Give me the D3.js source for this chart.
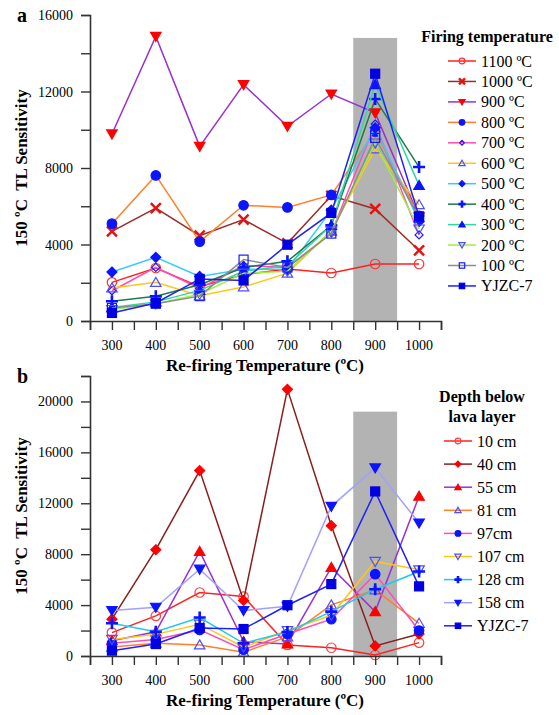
<!DOCTYPE html>
<html>
<head>
<meta charset="utf-8">
<script src="https://cdn.jsdelivr.net/npm/d3@7"></script>
<style>
  body { margin: 0; background: #fff; }
  text { font-family: "Liberation Serif", "Times New Roman", serif; }
</style>
</head>
<body>
<div id="chart"></div>
<script>
// re-firing temperatures (x axis)
const temps = [300, 400, 500, 600, 700, 800, 900, 1000];

// panel a - firing temperature series
const a1100 = [2020, 2770, 1800, 2420, 2720, 2510, 2980, 2980];
const a1000 = [4690, 5900, 4460, 5300, 4060, 6550, 5860, 3690];
const a900 = [9780, 14880, 9130, 12360, 10180, 11870, 10880, 5450];
const a800 = [5090, 7610, 4150, 6050, 5940, 6590, 9900, 5500];
const a700 = [1580, 2800, 1700, 2900, 2800, 4600, 10300, 4500];
const a600 = [1730, 2020, 1320, 1780, 2500, 4700, 9000, 6080];
const a500 = [2560, 3330, 2330, 2700, 2700, 5800, 10100, 5200];
const a400 = [1030, 1290, 1900, 2800, 3120, 5000, 11610, 8050];
const a300 = [700, 1000, 1600, 2600, 2900, 5000, 12360, 7090];
const a200 = [600, 900, 1400, 2500, 2600, 4700, 9300, 4810];
const a100 = [680, 900, 1300, 3210, 2800, 4570, 9570, 5400];
const yjzc = [420, 940, 2200, 2120, 3990, 5650, 12930, 5470];

// panel b - depth below lava layer series
const b10 = [1840, 3150, 4990, 4670, 870, 650, 80, 1050];
const b40 = [2890, 8350, 14570, 4360, 20950, 10240, 790, 1730];
const b55 = [1200, 1900, 8210, 1130, 950, 6960, 3490, 12550];
const b81 = [700, 1000, 870, 300, 1500, 4020, 5200, 2570];
const b97 = [1000, 1300, 2050, 500, 1730, 2890, 6430, 2000];
const b107 = [1300, 1700, 2500, 700, 2000, 3200, 7430, 6770];
const b128 = [2570, 1900, 3020, 1000, 1890, 3490, 5250, 6640];
const b158 = [3570, 3830, 6820, 3570, 3900, 11760, 14780, 10450];

const seriesA = [
  { name: '1100 ºC', values: a1100, line: '#ff2020', mark: 'circle', fill: 'none', mcol: '#ff3030' },
  { name: '1000 ºC', values: a1000, line: '#9c2a2a', mark: 'x', fill: 'none', mcol: '#e81010' },
  { name: '900 ºC', values: a900, line: '#9b30d0', mark: 'tdown', fill: '#ff0000', mcol: '#ff0000' },
  { name: '800 ºC', values: a800, line: '#ff7f2a', mark: 'circle', fill: '#0a14ff', mcol: '#0a14ff' },
  { name: '700 ºC', values: a700, line: '#ff4db8', mark: 'diamond', fill: 'none', mcol: '#1a1aff' },
  { name: '600 ºC', values: a600, line: '#ffc61a', mark: 'tup', fill: 'none', mcol: '#4d4dff' },
  { name: '500 ºC', values: a500, line: '#33ccff', mark: 'diamond', fill: '#0a14ff', mcol: '#0a14ff' },
  { name: '400 ºC', values: a400, line: '#1e7a4a', mark: 'plus', fill: 'none', mcol: '#0a14ff' },
  { name: '300 ºC', values: a300, line: '#33d6a0', mark: 'tup', fill: '#0a14ff', mcol: '#0a14ff' },
  { name: '200 ºC', values: a200, line: '#9ef03a', mark: 'tdown', fill: 'none', mcol: '#4d4dff' },
  { name: '100 ºC', values: a100, line: '#8c8c8c', mark: 'square', fill: 'none', mcol: '#1a1aff' },
  { name: 'YJZC-7', values: yjzc, line: '#1f1fff', mark: 'square', fill: '#0000e0', mcol: '#0000e0' }
];

const seriesB = [
  { name: '10 cm', values: b10, line: '#ff2020', mark: 'circle', fill: 'none', mcol: '#ff4040' },
  { name: '40 cm', values: b40, line: '#8b1c1c', mark: 'diamond', fill: '#ff0000', mcol: '#ff0000' },
  { name: '55 cm', values: b55, line: '#9b30d0', mark: 'tup', fill: '#ff0000', mcol: '#ff0000' },
  { name: '81 cm', values: b81, line: '#ff7f2a', mark: 'tup', fill: 'none', mcol: '#4d4dff' },
  { name: '97cm', values: b97, line: '#ff4db8', mark: 'circle', fill: '#0a14ff', mcol: '#0a14ff' },
  { name: '107 cm', values: b107, line: '#ffc61a', mark: 'tdown', fill: 'none', mcol: '#4d4dff' },
  { name: '128 cm', values: b128, line: '#1ec8f0', mark: 'plus', fill: 'none', mcol: '#0a14ff' },
  { name: '158 cm', values: b158, line: '#a0a0ff', mark: 'tdown', fill: '#0a14ff', mcol: '#0a14ff' },
  { name: 'YJZC-7', values: yjzc, line: '#1f1fff', mark: 'square', fill: '#0000e0', mcol: '#0000e0' }
];

const svg = d3.select('#chart').append('svg')
  .attr('width', 559)
  .attr('height', 715);

// draw a marker of the given kind centred on 0,0 inside g
function marker(g, s, size) {
  const r = size / 2;
  const sw = 1.2;
  if (s.mark === 'circle') {
    g.append('circle').attr('r', r * 0.95)
      .attr('fill', s.fill).attr('stroke', s.mcol).attr('stroke-width', sw);
  } else if (s.mark === 'square') {
    g.append('rect').attr('x', -r * 0.9).attr('y', -r * 0.9)
      .attr('width', r * 1.8).attr('height', r * 1.8)
      .attr('fill', s.fill).attr('stroke', s.mcol).attr('stroke-width', sw);
  } else if (s.mark === 'tup' || s.mark === 'tdown') {
    const k = s.mark === 'tup' ? 1 : -1;
    const pts = [[0, -r * k], [r * 1.05, r * 0.8 * k], [-r * 1.05, r * 0.8 * k]];
    g.append('path').attr('d', d3.line()(pts) + 'Z')
      .attr('fill', s.fill).attr('stroke', s.mcol).attr('stroke-width', sw);
  } else if (s.mark === 'diamond') {
    const d = s.fill === 'none' ? r * 0.8 : r;
    const pts = [[0, -d], [d, 0], [0, d], [-d, 0]];
    g.append('path').attr('d', d3.line()(pts) + 'Z')
      .attr('fill', s.fill).attr('stroke', s.mcol).attr('stroke-width', sw);
  } else if (s.mark === 'plus') {
    g.append('path').attr('d', `M${-r * 1.2},0H${r * 1.2}M0,${-r * 1.2}V${r * 1.2}`)
      .attr('stroke', s.mcol).attr('stroke-width', 2.6).attr('fill', 'none');
  } else if (s.mark === 'x') {
    g.append('path').attr('d', `M${-r},${-r}L${r},${r}M${-r},${r}L${r},${-r}`)
      .attr('stroke', s.mcol).attr('stroke-width', 2.4).attr('fill', 'none');
  }
}

function panel(opt) {
  const g = svg.append('g');
  const x = d3.scaleLinear().domain([250, 1050]).range([90, 441]);
  const y = d3.scaleLinear().domain([0, opt.ymax]).range([opt.bottom, opt.top]);

  // shaded band around 900 ºC
  g.append('rect')
    .attr('x', x(850)).attr('width', x(950) - x(850))
    .attr('y', y(opt.band)).attr('height', y(0) - y(opt.band))
    .attr('fill', '#b3b3b3');

  // lines and markers
  const line = d3.line().x((d, i) => x(temps[i])).y(d => y(d));
  opt.series.forEach(s => {
    g.append('path')
      .datum(s.values)
      .attr('d', line)
      .attr('fill', 'none')
      .attr('stroke', s.line)
      .attr('stroke-width', 1.5);
    s.values.forEach((v, i) => {
      const m = g.append('g').attr('transform', `translate(${x(temps[i])},${y(v)})`);
      marker(m, s, 10);
    });
  });

  // axes
  const xAxis = g.append('g')
    .attr('transform', `translate(0,${opt.bottom})`)
    .call(d3.axisBottom(x).tickValues(d3.range(250, 1051, 50)).tickSize(9).tickFormat(''));
  xAxis.selectAll('text').remove();
  g.selectAll('.xl').data(temps).enter().append('text')
    .attr('x', d => x(d)).attr('y', opt.bottom + 29)
    .attr('text-anchor', 'middle').attr('font-size', 14)
    .text(d => d);

  const yAxis = g.append('g')
    .attr('transform', 'translate(90,0)')
    .call(d3.axisLeft(y).tickValues(d3.range(0, opt.ymax + 1, 2000)).tickSize(9).tickFormat(''));
  g.selectAll('.yl').data(opt.yticks).enter().append('text')
    .attr('x', 73).attr('y', d => y(d) + 5)
    .attr('text-anchor', 'end').attr('font-size', 14)
    .text(d => d);

  [xAxis, yAxis].forEach(a => {
    a.select('.domain').attr('stroke', '#333').attr('stroke-width', 1.6);
    a.selectAll('.tick line').attr('stroke', '#333').attr('stroke-width', 1.4);
  });

  // axis titles
  g.append('text')
    .attr('x', 265).attr('y', opt.bottom + 50)
    .attr('text-anchor', 'middle').attr('font-size', 17).attr('font-weight', 'bold')
    .text('Re-firing Temperature (ºC)');
  g.append('text')
    .attr('transform', `translate(27,${(opt.top + opt.bottom) / 2}) rotate(-90)`)
    .attr('text-anchor', 'middle').attr('font-size', 17).attr('font-weight', 'bold')
    .attr('xml:space', 'preserve')
    .text('150 ºC  TL Sensitivity');

  // panel letter
  g.append('text')
    .attr('x', 17).attr('y', opt.top + 7)
    .attr('font-family', 'Liberation Sans, Arial, sans-serif')
    .attr('font-size', 20).attr('font-weight', 'bold')
    .text(opt.letter);

  // legend
  const lg = g.append('g');
  opt.legendTitle.forEach((t, i) => {
    lg.append('text')
      .attr('x', opt.titleX).attr('y', opt.titleY + i * 20)
      .attr('text-anchor', 'middle').attr('font-size', 16).attr('font-weight', 'bold')
      .text(t);
  });
  opt.series.forEach((s, i) => {
    const ly = opt.legY + i * opt.legStep;
    lg.append('line')
      .attr('x1', opt.legX).attr('x2', opt.legX + 28)
      .attr('y1', ly).attr('y2', ly)
      .attr('stroke', s.line).attr('stroke-width', 1.5);
    const m = lg.append('g').attr('transform', `translate(${opt.legX + 14},${ly})`);
    marker(m, s, 6);
    lg.append('text')
      .attr('x', opt.legX + 33).attr('y', ly + 5.5)
      .attr('font-size', 16)
      .text(s.name);
  });
}

panel({
  letter: 'a', series: seriesA, top: 15, bottom: 321, ymax: 16000,
  yticks: [0, 4000, 8000, 12000, 16000], band: 14800,
  legendTitle: ['Firing temperature'], titleX: 487, titleY: 42,
  legX: 448, legY: 61, legStep: 20.45
});

panel({
  letter: 'b', series: seriesB, top: 376, bottom: 656, ymax: 22000,
  yticks: [0, 4000, 8000, 12000, 16000, 20000], band: 19200,
  legendTitle: ['Depth below', 'lava layer'], titleX: 482, titleY: 402,
  legX: 444, legY: 441, legStep: 23.1
});
</script>
</body>
</html>
